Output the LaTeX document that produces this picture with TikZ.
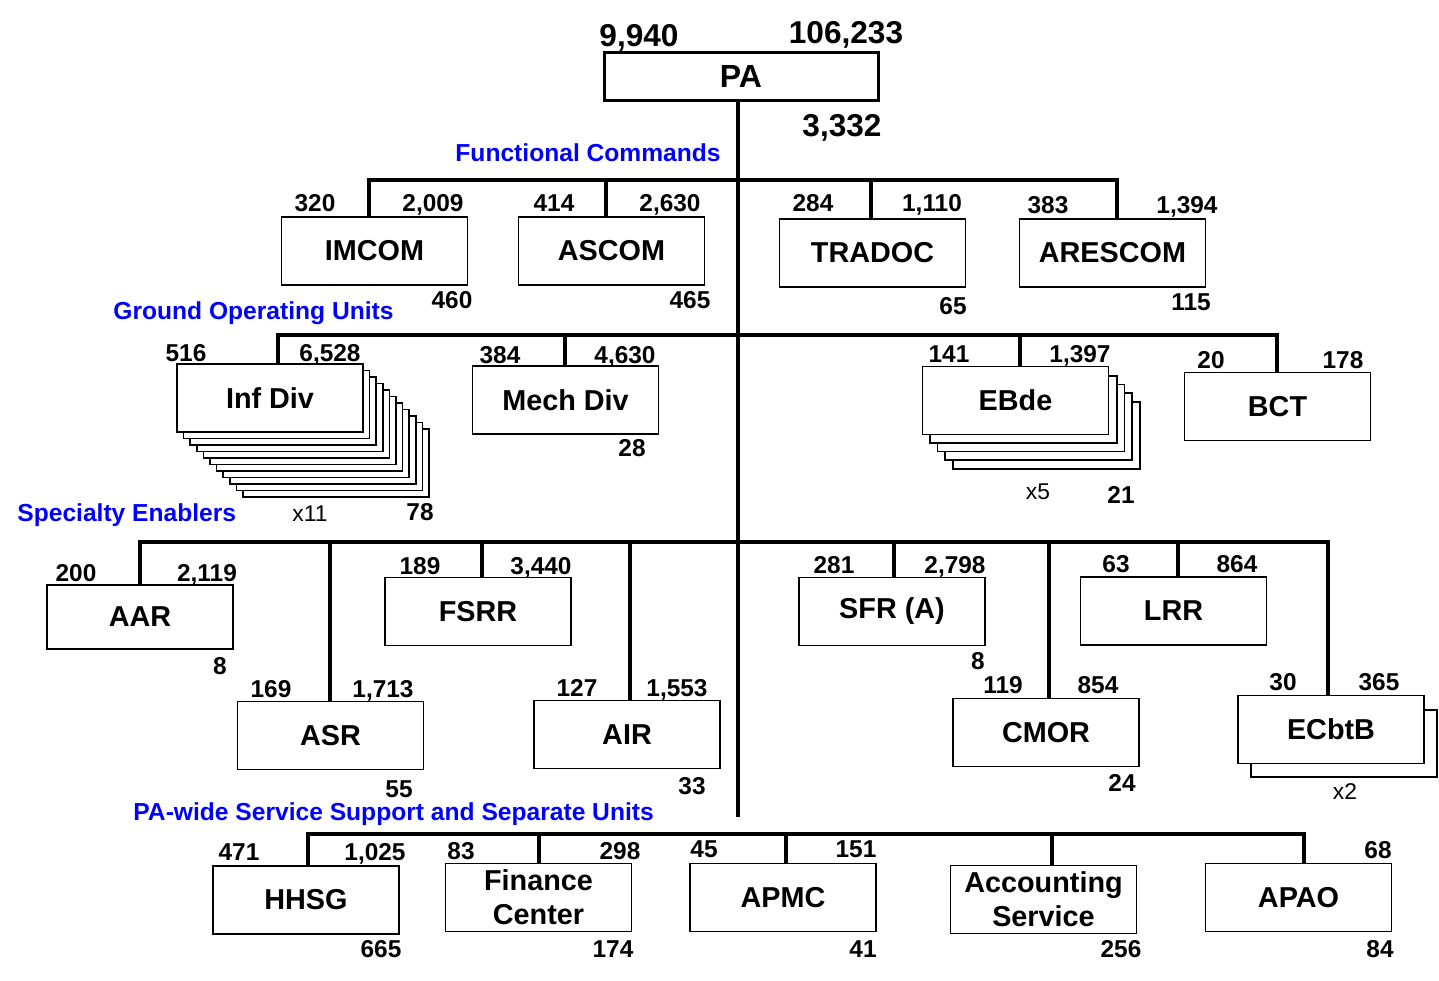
\documentclass[tikz,border=0pt]{standalone}
\usepackage{fontspec}
\setmainfont{Liberation Sans}
\definecolor{grouptext}{RGB}{0,0,255}
\tikzset{
  unit/.style={draw, fill=white, line width=0.8pt, minimum width=93pt,
    minimum height=34pt, inner sep=0pt, align=center,
    font=\bfseries\fontsize{14.4}{17}\selectfont},
  topunit/.style={unit, line width=1.5pt, minimum width=137pt,
    minimum height=24pt, font=\bfseries\fontsize{16}{19}\selectfont},
  ghost/.style={draw, fill=white, line width=0.8pt},
  num/.style={inner sep=0pt, text height=8.5pt, text depth=0pt,
    font=\bfseries\fontsize{12.2}{14}\selectfont},
  bignum/.style={inner sep=0pt, text height=11pt, text depth=0pt,
    font=\bfseries\fontsize{15.8}{18}\selectfont},
  mult/.style={inner sep=0pt, text height=8pt, text depth=0pt,
    font=\fontsize{11.4}{13}\selectfont},
  group/.style={inner sep=0pt, text=grouptext,
    font=\bfseries\fontsize{12.3}{14}\selectfont},
  bus/.style={line width=2.25pt}
}
\begin{document}
\begin{tikzpicture}[x=0.5pt,y=-0.5pt]
  \useasboundingbox (0,0) rectangle (1439,980);
  % stacked copies behind the multi-unit boxes
  \foreach \i in {10,...,1}
    \draw[ghost, shift={(\i*6.6,\i*6.5)}] (177,364) rectangle (363,432);
  \foreach \i in {4,...,1}
    \draw[ghost, shift={(\i*7.7,\i*8.7)}] (922,367) rectangle (1109,434);
  \draw[ghost, shift={(13,14)}] (1238,696) rectangle (1424,763);
  % units
  \node[topunit] (PA) at (741,76) {PA};
  \node[unit] (IMCOM) at (374.5,251) {IMCOM};
  \node[unit] (ASCOM) at (611.5,251) {ASCOM};
  \node[unit] (TRADOC) at (872.5,253) {TRADOC};
  \node[unit] (ARESCOM) at (1112.5,253) {ARESCOM};
  \node[unit] (InfDiv) at (270,398) {Inf Div};
  \node[unit] (MechDiv) at (565.5,400) {Mech Div};
  \node[unit] (EBde) at (1015.5,400.5) {EBde};
  \node[unit] (BCT) at (1277.5,406.5) {BCT};
  \node[unit, minimum height=32pt] (AAR) at (140,617) {AAR};
  \node[unit] (ASR) at (330.5,735.5) {ASR};
  \node[unit] (FSRR) at (478,611.5) {FSRR};
  \node[unit] (AIR) at (627,734.5) {AIR};
  \node[unit] (SFR) at (892,611.5) {SFR (A)};
  \node[unit] (CMOR) at (1046,732.5) {CMOR};
  \node[unit] (LRR) at (1173.5,611) {LRR};
  \node[unit] (ECbtB) at (1331,729.5) {ECbtB};
  \node[unit] (HHSG) at (306,900) {HHSG};
  \node[unit] (Finance) at (538.5,897.5) {Finance\\Center};
  \node[unit] (APMC) at (783,897.5) {APMC};
  \node[unit] (Acct) at (1043.5,899.5) {Accounting\\Service};
  \node[unit] (APAO) at (1298.5,897.5) {APAO};
  % group titles
  \node[group, anchor=east] (fcTitle) at (721,153) {Functional Commands};
  \node[group, anchor=west] (gouTitle) at (113,313) {Ground Operating Units};
  \node[group, anchor=west] (seTitle) at (17,515) {Specialty Enablers};
  \node[group, anchor=west] (pawTitle) at (133,814) {PA-wide Service Support and Separate Units};
  % bus taps
  \coordinate (trunkEnd) at (738,817);
  \coordinate (tIMCOM) at (369,180);
  \coordinate (tASCOM) at (606,180);
  \coordinate (tTRADOC) at (871,180);
  \coordinate (tARESCOM) at (1117,180);
  \coordinate (tInfDiv) at (278,335);
  \coordinate (tMechDiv) at (565,335);
  \coordinate (tEBde) at (1020,335);
  \coordinate (tBCT) at (1277,335);
  \coordinate (tAAR) at (140,542);
  \coordinate (tASR) at (330,542);
  \coordinate (tFSRR) at (482,542);
  \coordinate (tAIR) at (630,542);
  \coordinate (tSFR) at (894,542);
  \coordinate (tCMOR) at (1049,542);
  \coordinate (tLRR) at (1178,542);
  \coordinate (tECbtB) at (1328,542);
  \coordinate (tHHSG) at (308,834);
  \coordinate (tFinance) at (539,834);
  \coordinate (tAPMC) at (786,834);
  \coordinate (tAcct) at (1052,834);
  \coordinate (tAPAO) at (1304,834);
  % connectors
  \begin{scope}[bus]
    \draw (PA.south -| trunkEnd) -- (trunkEnd);
    \draw (IMCOM.north -| tIMCOM) -- (tIMCOM) -- (tARESCOM) -- (ARESCOM.north -| tARESCOM);
    \draw (tASCOM) -- (ASCOM.north -| tASCOM);
    \draw (tTRADOC) -- (TRADOC.north -| tTRADOC);
    \draw (InfDiv.north -| tInfDiv) -- (tInfDiv) -- (tBCT) -- (BCT.north -| tBCT);
    \draw (tMechDiv) -- (MechDiv.north -| tMechDiv);
    \draw (tEBde) -- (EBde.north -| tEBde);
    \draw (AAR.north -| tAAR) -- (tAAR) -- (tECbtB) -- (ECbtB.north -| tECbtB);
    \draw (tASR) -- (ASR.north -| tASR);
    \draw (tFSRR) -- (FSRR.north -| tFSRR);
    \draw (tAIR) -- (AIR.north -| tAIR);
    \draw (tSFR) -- (SFR.north -| tSFR);
    \draw (tCMOR) -- (CMOR.north -| tCMOR);
    \draw (tLRR) -- (LRR.north -| tLRR);
    \draw (HHSG.north -| tHHSG) -- (tHHSG) -- (tAPAO) -- (APAO.north -| tAPAO);
    \draw (tFinance) -- (Finance.north -| tFinance);
    \draw (tAPMC) -- (APMC.north -| tAPMC);
    \draw (tAcct) -- (Acct.north -| tAcct);
  \end{scope}
  % head counts
  \node[bignum] (pa-l) at (639,35) {9,940};
  \node[bignum] (pa-r) at (846,32) {106,233};
  \node[bignum] (pa-b) at (842,125) {3,332};
  \node[num] (imcom-l) at (315,203) {320};
  \node[num] (imcom-r) at (433,203) {2,009};
  \node[num] (imcom-b) at (452,300) {460};
  \node[num] (ascom-l) at (554,203) {414};
  \node[num] (ascom-r) at (670,203) {2,630};
  \node[num] (ascom-b) at (690,300) {465};
  \node[num] (tradoc-l) at (813,203) {284};
  \node[num] (tradoc-r) at (932,203) {1,110};
  \node[num] (tradoc-b) at (953,306) {65};
  \node[num] (arescom-l) at (1048,205) {383};
  \node[num] (arescom-r) at (1187,205) {1,394};
  \node[num] (arescom-b) at (1191,302) {115};
  \node[num] (infdiv-l) at (186,353) {516};
  \node[num] (infdiv-r) at (330,353) {6,528};
  \node[mult] (infdiv-x) at (310,513) {x11};
  \node[num] (infdiv-b) at (420,512) {78};
  \node[num] (mechdiv-l) at (500,355) {384};
  \node[num] (mechdiv-r) at (625,355) {4,630};
  \node[num] (mechdiv-b) at (632,448) {28};
  \node[num] (ebde-l) at (949,354) {141};
  \node[num] (ebde-r) at (1080,354) {1,397};
  \node[mult] (ebde-x) at (1038,491) {x5};
  \node[num] (ebde-b) at (1121,495) {21};
  \node[num] (bct-l) at (1211,360) {20};
  \node[num] (bct-r) at (1343,360) {178};
  \node[num] (aar-l) at (76,573) {200};
  \node[num] (aar-r) at (207,573) {2,119};
  \node[num] (aar-b) at (220,666) {8};
  \node[num] (asr-l) at (271,689) {169};
  \node[num] (asr-r) at (383,689) {1,713};
  \node[num] (asr-b) at (399,789) {55};
  \node[num] (fsrr-l) at (420,566) {189};
  \node[num] (fsrr-r) at (541,566) {3,440};
  \node[num] (air-l) at (577,688) {127};
  \node[num] (air-r) at (677,688) {1,553};
  \node[num] (air-b) at (692,786) {33};
  \node[num] (sfr-l) at (834,565) {281};
  \node[num] (sfr-r) at (955,565) {2,798};
  \node[num] (sfr-b) at (978,661) {8};
  \node[num] (cmor-l) at (1003,685) {119};
  \node[num] (cmor-r) at (1098,685) {854};
  \node[num] (cmor-b) at (1122,783) {24};
  \node[num] (lrr-l) at (1116,564) {63};
  \node[num] (lrr-r) at (1237,564) {864};
  \node[num] (ecbtb-l) at (1283,682) {30};
  \node[num] (ecbtb-r) at (1379,682) {365};
  \node[mult] (ecbtb-x) at (1345,791) {x2};
  \node[num] (hhsg-l) at (239,852) {471};
  \node[num] (hhsg-r) at (375,852) {1,025};
  \node[num] (hhsg-b) at (381,949) {665};
  \node[num] (fin-l) at (461,851) {83};
  \node[num] (fin-r) at (620,851) {298};
  \node[num] (fin-b) at (613,949) {174};
  \node[num] (apmc-l) at (704,849) {45};
  \node[num] (apmc-r) at (856,849) {151};
  \node[num] (apmc-b) at (863,949) {41};
  \node[num] (acct-b) at (1121,949) {256};
  \node[num] (apao-r) at (1378,850) {68};
  \node[num] (apao-b) at (1380,949) {84};
\end{tikzpicture}
\end{document}
